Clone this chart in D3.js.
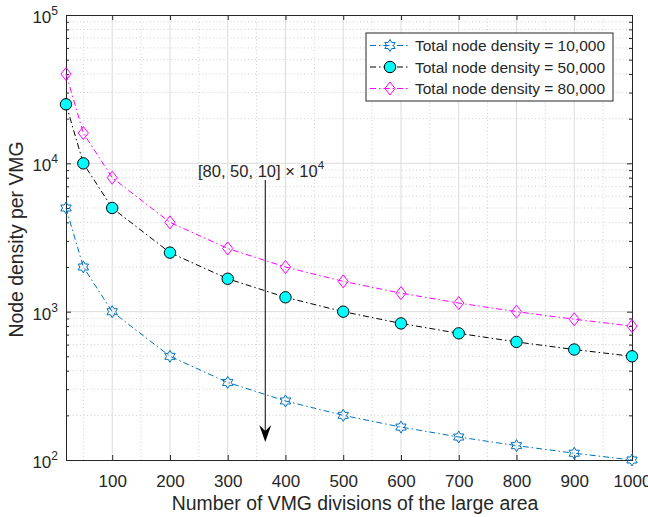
<!DOCTYPE html>
<html>
<head>
<meta charset="utf-8" />
<title>Node density per VMG</title>
<style>
    body { margin: 0; background: #fff; }
    svg text { font-family: Arial, 'Liberation Sans', Helvetica, sans-serif; fill: #262626; }
    .grid-major line { stroke: #dcdcdc; stroke-width: 1px; }
    .grid-minor line { stroke: #d0d0d0; stroke-width: 1px; stroke-dasharray: 1, 2.5; }
    .series path.line { fill: none; stroke-width: 1px; stroke-dasharray: 6, 3, 1.5, 3; }
</style>
</head>
<body>
<div id="chart"></div>
<script src="https://d3js.org/d3.v7.min.js"></script>
<script>
    // divisions of the large area
    var divisions = [20, 50, 100, 200, 300, 400, 500, 600, 700, 800, 900, 1000]
    var density10k = [5000, 2000, 1000, 500, 333.3, 250, 200, 166.7, 142.9, 125, 111.1, 100]
    var density50k = [25000, 10000, 5000, 2500, 1666.7, 1250, 1000, 833.3, 714.3, 625, 555.6, 500]
    var density80k = [40000, 16000, 8000, 4000, 2666.7, 2000, 1600, 1333.3, 1142.9, 1000, 888.9, 800]
    var seriesNames = ["Total node density = 10,000", "Total node density = 50,000", "Total node density = 80,000"]
    var xTicks = [100, 200, 300, 400, 500, 600, 700, 800, 900, 1000]
    var yTicks = [100, 1000, 10000, 100000]

    var width = 648, height = 517
    var margin = { top: 15, right: 16, bottom: 57, left: 66 }
    var w = width - margin.left - margin.right
    var h = height - margin.top - margin.bottom

    var svg = d3.select("#chart").append("svg")
        .attr("width", width).attr("height", height)
    var g = svg.append("g").attr("transform", "translate(" + margin.left + "," + margin.top + ")")

    var x = d3.scaleLinear().domain([20, 1000]).range([0, w])
    var y = d3.scaleLog().domain([100, 100000]).range([h, 0])

    // minor grid
    var xMinor = d3.range(50, 1000, 100)
    var yMinor = []
    yTicks.slice(0, 3).forEach(function(d) {
        for (var k = 2; k <= 9; k++) yMinor.push(d * k)
    })
    var gm = g.append("g").attr("class", "grid-minor")
    gm.selectAll("line.v").data(xMinor).enter().append("line")
        .attr("x1", function(d) { return x(d) }).attr("x2", function(d) { return x(d) })
        .attr("y1", 0).attr("y2", h)
    gm.selectAll("line.h").data(yMinor).enter().append("line")
        .attr("y1", function(d) { return y(d) }).attr("y2", function(d) { return y(d) })
        .attr("x1", 0).attr("x2", w)

    // major grid
    var gM = g.append("g").attr("class", "grid-major")
    gM.selectAll("line.v").data(xTicks.slice(0, -1)).enter().append("line")
        .attr("x1", function(d) { return x(d) }).attr("x2", function(d) { return x(d) })
        .attr("y1", 0).attr("y2", h)
    gM.selectAll("line.h").data(yTicks.slice(1, -1)).enter().append("line")
        .attr("y1", function(d) { return y(d) }).attr("y2", function(d) { return y(d) })
        .attr("x1", 0).attr("x2", w)

    // axes (ticks inward, box)
    var axisColor = "#262626"
    var xb = g.append("g").attr("transform", "translate(0," + h + ")")
        .call(d3.axisBottom(x).tickValues(xTicks).tickSize(-5).tickPadding(15).tickFormat(d3.format("d")))
    var xt = g.append("g")
        .call(d3.axisTop(x).tickValues(xTicks).tickSize(-5).tickFormat(""))
    var yl = g.append("g")
        .call(d3.axisLeft(y).tickValues(yTicks).tickSize(-5).tickFormat(""))
    var yr = g.append("g").attr("transform", "translate(" + w + ",0)")
        .call(d3.axisRight(y).tickValues(yTicks).tickSize(-5).tickFormat(""))
    var yl2 = g.append("g")
        .call(d3.axisLeft(y).tickValues(yMinor).tickSize(-3).tickFormat(""))
    var yr2 = g.append("g").attr("transform", "translate(" + w + ",0)")
        .call(d3.axisRight(y).tickValues(yMinor).tickSize(-3).tickFormat(""))
    ;[xb, xt, yl, yr, yl2, yr2].forEach(function(a) {
        a.selectAll("path.domain").attr("stroke", axisColor)
        a.selectAll(".tick line").attr("stroke", axisColor)
    })
    xb.selectAll(".tick text").style("font-size", "17px").attr("fill", axisColor)

    // y tick labels with exponents
    yTicks.forEach(function(d) {
        var t = g.append("text")
            .attr("x", -8).attr("y", y(d) + 8)
            .attr("text-anchor", "end")
            .style("font-size", "17px")
        t.append("tspan").text("10")
        t.append("tspan").attr("dy", -8).style("font-size", "12px").text(Math.round(Math.log10(d)))
    })

    // axis titles
    svg.append("text")
        .attr("x", margin.left + w / 2 + 6).attr("y", 510)
        .attr("text-anchor", "middle")
        .style("font-size", "19.4px")
        .text("Number of VMG divisions of the large area")
    svg.append("text")
        .attr("transform", "translate(23," + (margin.top + h / 2 + 2) + ") rotate(-90)")
        .attr("text-anchor", "middle")
        .style("font-size", "19.4px")
        .text("Node density per VMG")

    // markers
    function hexagram(r) {
        var pts = []
        for (var i = 0; i < 12; i++) {
            var a = -Math.PI / 2 + i * Math.PI / 6
            var rr = i % 2 === 0 ? r : r * 0.58
            pts.push([rr * Math.cos(a), rr * Math.sin(a)])
        }
        return "M" + pts.join("L") + "Z"
    }
    function diamond(r) {
        var rw = r * 0.78
        return "M0," + (-r) + "L" + rw + ",0L0," + r + "L" + (-rw) + ",0Z"
    }
    function circle(r) {
        return d3.symbol().type(d3.symbolCircle).size(Math.PI * r * r)()
    }

    var series = [
        { name: seriesNames[0], values: density10k, color: "#0072BD", marker: hexagram(6), fill: "none", mstroke: "#0072BD" },
        { name: seriesNames[1], values: density50k, color: "#000000", marker: circle(5.7), fill: "#00FFFF", mstroke: "#000000" },
        { name: seriesNames[2], values: density80k, color: "#FF00FF", marker: diamond(6.5), fill: "none", mstroke: "#FF00FF" }
    ]

    var line = d3.line()
        .x(function(d) { return x(d[0]) })
        .y(function(d) { return y(d[1]) })

    var sg = g.selectAll("g.series").data(series).enter().append("g").attr("class", "series")
    sg.append("path").attr("class", "line")
        .attr("stroke", function(d) { return d.color })
        .attr("d", function(d) { return line(d3.zip(divisions, d.values)) })
    sg.each(function(s) {
        d3.select(this).selectAll("path.mk").data(d3.zip(divisions, s.values)).enter().append("path")
            .attr("class", "mk")
            .attr("d", s.marker)
            .attr("transform", function(d) { return "translate(" + x(d[0]) + "," + y(d[1]) + ")" })
            .attr("fill", s.fill)
            .attr("stroke", s.mstroke)
            .attr("stroke-width", 1)
    })

    // annotation arrow
    var ax = x(365)
    var ay1 = 180 - margin.top, ay2 = 442 - margin.top
    g.append("line").attr("x1", ax).attr("x2", ax).attr("y1", ay1).attr("y2", ay2 - 10)
        .attr("stroke", "#000").attr("stroke-width", 1)
    g.append("path")
        .attr("d", "M" + ax + "," + ay2 + "L" + (ax - 6) + "," + (ay2 - 17) + "L" + ax + "," + (ay2 - 11) + "L" + (ax + 6) + "," + (ay2 - 17) + "Z")
        .attr("fill", "#000")
    var at = g.append("text")
        .attr("x", 198 - margin.left).attr("y", 177 - margin.top)
        .style("font-size", "16.5px")
        .attr("fill", "#000")
    at.append("tspan").text("[80, 50, 10] \u00d7 10")
    at.append("tspan").attr("dy", -8).style("font-size", "11.5px").text("4")

    // legend
    var lg = svg.append("g").attr("transform", "translate(366,33)")
    lg.append("rect").attr("width", 247).attr("height", 68)
        .attr("fill", "#fff").attr("stroke", axisColor).attr("stroke-width", 1)
    var rows = [12.5, 34, 55.5]
    series.forEach(function(s, i) {
        var r = lg.append("g").attr("transform", "translate(0," + rows[i] + ")")
        r.append("line").attr("x1", 4).attr("x2", 44)
            .attr("stroke", s.color).attr("stroke-width", 1)
            .attr("stroke-dasharray", "6,3,1.5,3")
        r.append("path").attr("d", s.marker).attr("transform", "translate(24,0)")
            .attr("fill", s.fill).attr("stroke", s.mstroke)
        r.append("text").attr("x", 49).attr("y", 5.5)
            .style("font-size", "15.5px")
            .attr("fill", "#000")
            .text(s.name)
    })
</script>
</body>
</html>
